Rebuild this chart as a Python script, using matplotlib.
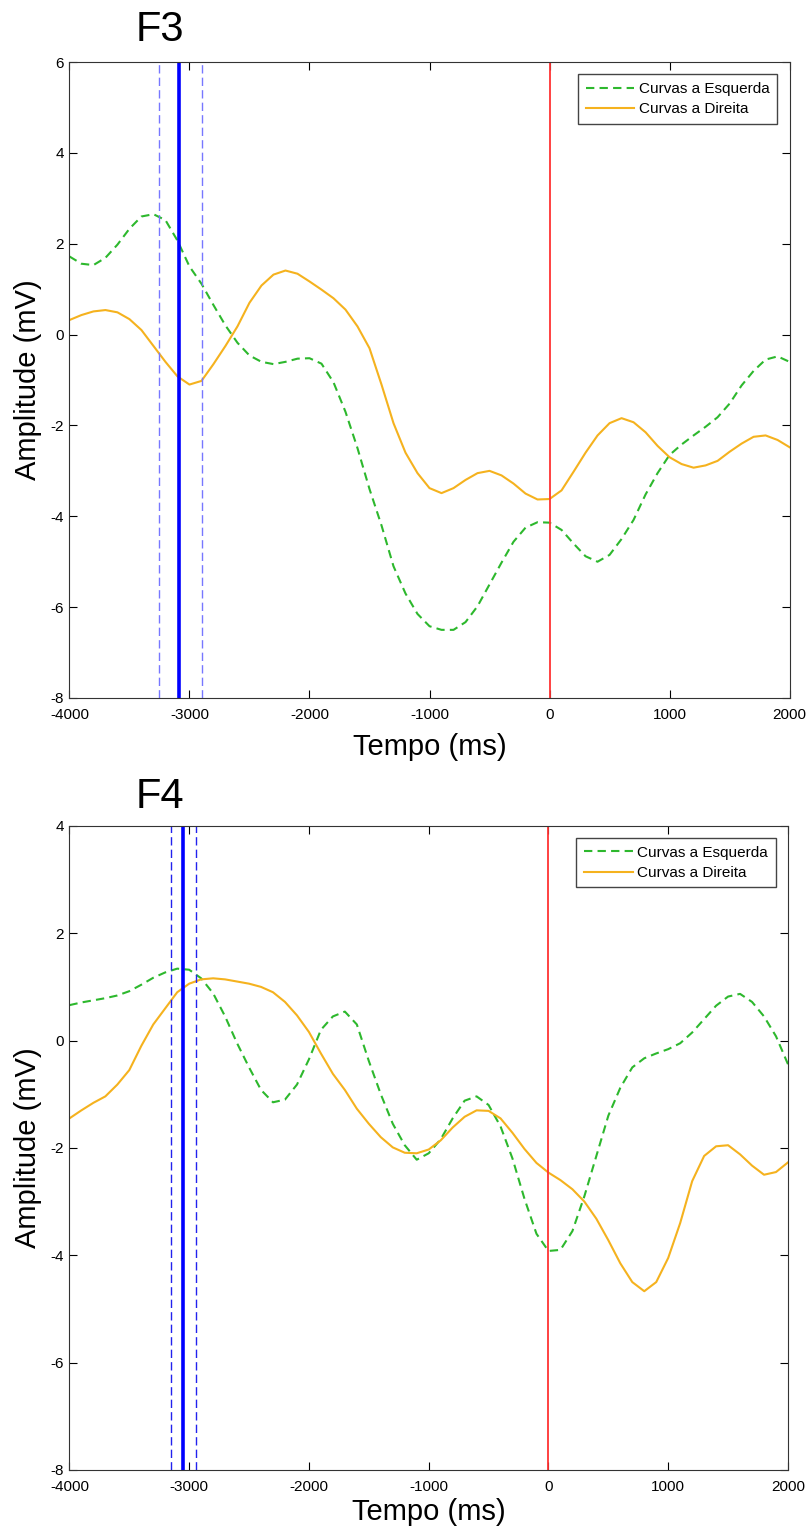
import numpy as np
import matplotlib
matplotlib.use("Agg")
import matplotlib.pyplot as plt

plt.rcParams['font.family'] = ['Liberation Sans', 'DejaVu Sans']
plt.rcParams['axes.unicode_minus'] = False

time_ms = list(range(-4000, 2001, 100))

f3_esquerda = [1.72, 1.56, 1.53, 1.69, 1.98, 2.33, 2.60, 2.65, 2.52, 2.07,
               1.50, 1.12, 0.65, 0.20, -0.18, -0.46, -0.60, -0.65, -0.60, -0.53,
               -0.52, -0.64, -1.05, -1.70, -2.50, -3.40, -4.20, -5.10, -5.70, -6.15,
               -6.42, -6.50, -6.50, -6.33, -5.98, -5.50, -5.02, -4.56, -4.25, -4.13,
               -4.14, -4.30, -4.60, -4.88, -5.00, -4.85, -4.50, -4.08, -3.52, -3.05,
               -2.65, -2.42, -2.22, -2.03, -1.82, -1.52, -1.12, -0.80, -0.55, -0.48, -0.60]
f3_direita = [0.32, 0.43, 0.51, 0.54, 0.49, 0.34, 0.10, -0.25, -0.60, -0.92,
              -1.10, -1.02, -0.65, -0.25, 0.18, 0.70, 1.08, 1.32, 1.41, 1.34,
              1.17, 0.99, 0.80, 0.55, 0.18, -0.30, -1.10, -1.95, -2.60, -3.05,
              -3.38, -3.49, -3.38, -3.20, -3.05, -3.00, -3.10, -3.28, -3.50, -3.63,
              -3.62, -3.43, -3.02, -2.60, -2.22, -1.95, -1.84, -1.93, -2.15, -2.45,
              -2.70, -2.85, -2.93, -2.88, -2.78, -2.58, -2.40, -2.25, -2.22, -2.32, -2.48]
f4_esquerda = [0.66, 0.71, 0.75, 0.79, 0.84, 0.92, 1.04, 1.17, 1.27, 1.34,
               1.32, 1.16, 0.88, 0.45, -0.05, -0.50, -0.92, -1.15, -1.10, -0.82,
               -0.35, 0.20, 0.45, 0.54, 0.30, -0.38, -1.00, -1.55, -1.95, -2.22,
               -2.10, -1.84, -1.45, -1.12, -1.04, -1.20, -1.60, -2.20, -2.95, -3.60,
               -3.92, -3.90, -3.55, -2.90, -2.15, -1.40, -0.88, -0.50, -0.33, -0.24,
               -0.16, -0.05, 0.15, 0.40, 0.65, 0.82, 0.87, 0.72, 0.45, 0.08, -0.44]
f4_direita = [-1.45, -1.30, -1.16, -1.04, -0.82, -0.55, -0.10, 0.30, 0.60, 0.90,
              1.06, 1.14, 1.16, 1.14, 1.10, 1.06, 1.00, 0.90, 0.72, 0.47,
              0.16, -0.24, -0.62, -0.92, -1.27, -1.55, -1.80, -1.99, -2.09, -2.10,
              -2.03, -1.86, -1.62, -1.42, -1.30, -1.31, -1.45, -1.72, -2.02, -2.28,
              -2.46, -2.60, -2.77, -3.00, -3.32, -3.72, -4.15, -4.50, -4.67, -4.50,
              -4.05, -3.40, -2.62, -2.15, -1.97, -1.95, -2.12, -2.33, -2.50, -2.45, -2.27]

titles = ["F3", "F4"]
ylims = [(-8, 6), (-8, 4)]
blue_center = [-3083, -3052]
blue_bounds = [(-3252, -2892), (-3155, -2943)]
blue_dash_colors = ['#7777ff', '#2222ee']
xticks = [-4000, -3000, -2000, -1000, 0, 1000, 2000]
labels = ["Curvas a Esquerda", "Curvas a Direita"]

fig = plt.figure(figsize=(8.11, 15.28), dpi=100)
positions = [[0.0856, 0.5432, 0.888, 0.4162], [0.0856, 0.0380, 0.886, 0.4215]]
title_y = [1 - 30 / 1528, 1 - 797 / 1528]
xlabel_pad = [8, 3]
data = [(f3_esquerda, f3_direita), (f4_esquerda, f4_direita)]

for i in range(2):
    ax = fig.add_axes(positions[i])
    esq, dir_ = data[i]
    ax.plot(time_ms, esq, color='#2db82d', linestyle=(0, (4, 2.5)), lw=1.5,
            label=labels[0], solid_joinstyle='round', dash_joinstyle='round')
    ax.plot(time_ms, dir_, color='#f5b21e', linestyle='-', lw=1.5,
            label=labels[1], solid_joinstyle='round')
    ax.axvline(blue_center[i], color='#0000ff', lw=2.6)
    for b in blue_bounds[i]:
        ax.axvline(b, color=blue_dash_colors[i], lw=1.0, linestyle=(0, (6, 3)))
    ax.axvline(0, color='#ff3333', lw=1.3)
    ax.set_xlim(-4000, 2000)
    ax.set_ylim(*ylims[i])
    ax.set_xticks(xticks)
    ax.set_xticklabels([str(t) for t in xticks])
    ax.set_yticks(np.arange(ylims[i][0], ylims[i][1] + 1, 2))
    ax.tick_params(direction='in', top=True, right=True, length=6, labelsize=11, width=0.8)
    ax.tick_params(axis='x', pad=7)
    ax.tick_params(axis='y', pad=4)
    ax.set_xlabel("Tempo (ms)", fontsize=21, labelpad=xlabel_pad[i])
    ax.set_ylabel("Amplitude (mV)", fontsize=21, labelpad=6)
    for s in ax.spines.values():
        s.set_linewidth(0.8)
        s.set_color('#333333')
    leg = ax.legend(loc='upper right', fontsize=11, fancybox=False, framealpha=1,
                    edgecolor='#444444', handlelength=3.2, borderaxespad=0.8,
                    handletextpad=0.3, borderpad=0.5, labelspacing=0.4)
    leg.get_frame().set_linewidth(1.0)
    fig.text(160 / 811, title_y[i], titles[i], fontsize=30, ha='center', va='center')

fig.savefig("out.png", dpi=100)
